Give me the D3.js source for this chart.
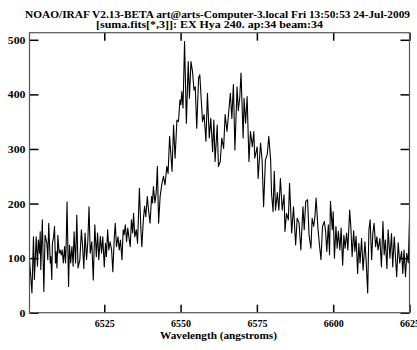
<!DOCTYPE html>
<html>
<head>
<meta charset="utf-8">
<script src="https://cdn.jsdelivr.net/npm/d3@7"></script>
<style>
  body { margin: 0; background: #fff; }
  text { font-family: "Liberation Serif", serif; font-weight: bold; fill: #000; }
</style>
</head>
<body>
<script>
// spectrum: wavelength (angstroms) and flux
const waves = [
  6500.5, 6501.3, 6501.8, 6502.1, 6502.7, 6503.1, 6503.4, 6503.8, 6504.0, 6504.2,
  6504.7, 6505.2, 6505.6, 6506.2, 6506.5, 6506.8, 6507.3, 6507.5, 6507.8, 6508.0,
  6508.4, 6508.7, 6509.0, 6509.2, 6509.5, 6509.8, 6510.2, 6510.5, 6510.9, 6511.2,
  6511.6, 6512.0, 6512.3, 6512.5, 6512.8, 6513.3, 6513.6, 6514.0, 6514.4, 6514.8,
  6515.1, 6515.6, 6516.0, 6516.4, 6517.0, 6517.5, 6517.9, 6518.3, 6518.7, 6519.2,
  6519.6, 6520.0, 6520.4, 6520.9, 6521.4, 6521.9, 6522.4, 6522.8, 6523.2, 6523.7,
  6524.1, 6524.5, 6525.0, 6525.4, 6525.7, 6526.1, 6526.5, 6526.9, 6527.4, 6527.8,
  6528.3, 6528.6, 6529.0, 6529.5, 6529.9, 6530.3, 6530.8, 6531.2, 6531.5, 6531.9,
  6532.3, 6532.7, 6533.2, 6533.5, 6533.9, 6534.3, 6534.6, 6535.0, 6535.5, 6535.9,
  6536.5, 6537.0, 6537.3, 6537.8, 6538.2, 6538.6, 6539.1, 6539.5, 6540.0, 6540.5,
  6540.8, 6541.1, 6541.6, 6542.0, 6542.4, 6542.8, 6543.3, 6543.9, 6544.4, 6544.9,
  6545.5, 6545.9, 6546.4, 6547.2, 6547.7, 6548.2, 6548.8, 6549.3, 6549.8, 6550.1,
  6550.4, 6550.8, 6551.3, 6551.9, 6552.5, 6552.9, 6553.4, 6553.9, 6554.4, 6554.8,
  6555.3, 6555.9, 6556.3, 6556.8, 6557.2, 6557.7, 6558.3, 6558.8, 6559.4, 6559.9,
  6560.5, 6560.9, 6561.3, 6562.0, 6562.4, 6563.0, 6563.5, 6564.1, 6564.6, 6565.2,
  6565.7, 6566.3, 6566.8, 6567.3, 6567.8, 6568.5, 6568.9, 6569.4, 6569.8, 6570.5,
  6570.8, 6571.3, 6571.8, 6572.4, 6572.9, 6573.5, 6574.0, 6574.3, 6575.1, 6575.4,
  6576.2, 6576.7, 6577.2, 6577.8, 6578.4, 6578.9, 6579.5, 6579.8, 6580.3, 6580.7,
  6581.1, 6581.7, 6582.2, 6582.7, 6583.3, 6583.9, 6584.2, 6584.7, 6585.3, 6585.7,
  6586.4, 6587.0, 6587.7, 6588.2, 6588.8, 6589.4, 6590.1, 6590.5, 6591.0, 6591.6,
  6592.1, 6592.7, 6593.1, 6593.6, 6594.0, 6594.4, 6595.0, 6595.5, 6596.0, 6596.5,
  6597.1, 6597.5, 6597.9, 6598.4, 6598.8, 6599.1, 6599.7, 6600.0, 6600.4, 6600.9,
  6601.3, 6601.7, 6602.2, 6602.6, 6603.1, 6603.5, 6603.9, 6604.4, 6604.8, 6605.4,
  6605.8, 6606.2, 6606.7, 6607.1, 6607.5, 6608.0, 6608.4, 6608.8, 6609.3, 6609.8,
  6610.4, 6610.8, 6611.3, 6611.7, 6612.1, 6612.6, 6613.0, 6613.4, 6613.9, 6614.3,
  6614.7, 6615.3, 6615.8, 6616.3, 6616.7, 6617.1, 6617.6, 6618.0, 6618.6, 6619.1,
  6619.5, 6620.0, 6620.4, 6620.8, 6621.3, 6621.8, 6622.4, 6622.8, 6623.2, 6623.7,
  6624.1, 6624.6, 6625.0
];
const flux = [
  97, 36, 139, 61, 139, 85, 133, 109, 148, 79,
  170, 39, 142, 127, 97, 164, 91, 103, 61, 127,
  139, 158, 91, 112, 82, 142, 109, 115, 106, 115,
  91, 121, 91, 121, 203, 48, 124, 91, 121, 85,
  148, 91, 179, 82, 97, 152, 121, 81, 146, 97,
  130, 194, 109, 130, 60, 161, 103, 146, 97, 140,
  109, 139, 84, 127, 103, 152, 115, 130, 115, 75,
  139, 164, 121, 139, 115, 133, 97, 152, 143, 161,
  130, 155, 133, 121, 170, 146, 182, 139, 152, 127,
  228, 152, 121, 170, 195, 176, 213, 188, 164, 213,
  201, 231, 201, 219, 268, 164, 213, 237, 250, 234,
  268, 255, 323, 259, 344, 283, 353, 350, 390, 381,
  405, 375, 497, 347, 460, 393, 460, 442, 408, 414,
  338, 430, 436, 387, 350, 363, 314, 402, 320, 356,
  295, 353, 277, 344, 268, 277, 320, 301, 363, 332,
  363, 402, 356, 418, 298, 414, 370, 395, 439, 320,
  393, 347, 396, 277, 332, 304, 332, 283, 304, 246,
  311, 280, 194, 280, 290, 323, 280, 219, 185, 259,
  188, 220, 188, 246, 188, 216, 149, 182, 170, 237,
  146, 194, 124, 173, 165, 115, 194, 152, 204, 207,
  142, 118, 173, 158, 175, 210, 155, 124, 97, 158,
  167, 150, 112, 161, 106, 204, 152, 185, 100, 158,
  118, 149, 115, 155, 87, 142, 118, 146, 115, 188,
  155, 103, 150, 112, 140, 72, 127, 91, 136, 78,
  130, 94, 36, 152, 170, 97, 146, 164, 121, 139,
  115, 136, 84, 167, 106, 133, 81, 152, 100, 145,
  84, 139, 103, 66, 128, 91, 112, 72, 115, 66,
  109, 91, 170
];
const xTicks = [6525, 6550, 6575, 6600, 6625];
const yTicks = [0, 100, 200, 300, 400, 500];
const titleLines = [
  "NOAO/IRAF V2.13-BETA art@arts-Computer-3.local Fri 13:50:53 24-Jul-2009",
  "[suma.fits[*,3]]: EX Hya 240. ap:34 beam:34"
];
const xLabel = "Wavelength (angstroms)";

let width = 417;
let height = 350;
// plot box in pixels
let box = { left: 29.5, right: 409.5, top: 32.7, bottom: 312.7 };

let svg = d3.select('body').append('svg')
  .attr('width', width)
  .attr('height', height);

let x = d3.scaleLinear().domain([6500.5, 6625]).range([box.left, box.right]);
let y = d3.scaleLinear().domain([0, 513]).range([box.bottom, box.top]);

svg.append('clipPath').attr('id', 'clip')
  .append('rect')
  .attr('x', box.left).attr('y', box.top)
  .attr('width', box.right - box.left).attr('height', box.bottom - box.top);

// spectrum
let data = waves.map((w, i) => [w, flux[i]]);
svg.append('path')
  .datum(data)
  .attr('clip-path', 'url(#clip)')
  .attr('fill', 'none')
  .attr('stroke', '#000')
  .attr('stroke-width', 1.1)
  .attr('stroke-linejoin', 'round')
  .attr('d', d3.line().x(d => x(d[0])).y(d => y(d[1])));

// axes, ticks pointing inward
let bottomAxis = svg.append('g')
  .attr('transform', `translate(0,${box.bottom})`)
  .call(d3.axisBottom(x).tickValues(xTicks).tickSize(-8).tickPadding(7).tickFormat(d3.format('d')));
svg.append('g')
  .attr('transform', `translate(0,${box.top})`)
  .call(d3.axisTop(x).tickValues(xTicks).tickSize(-8).tickFormat(''));
let leftAxis = svg.append('g')
  .attr('transform', `translate(${box.left},0)`)
  .call(d3.axisLeft(y).tickValues(yTicks).tickSize(-9).tickPadding(4).tickFormat(d3.format('d')));
svg.append('g')
  .attr('transform', `translate(${box.right},0)`)
  .call(d3.axisRight(y).tickValues(yTicks).tickSize(-9).tickFormat(''));

svg.selectAll('.domain').remove();
svg.selectAll('.tick line').attr('stroke', '#000').attr('stroke-width', 1.5);

bottomAxis.selectAll('text')
  .attr('font-size', 10.5)
  .attr('textLength', 20).attr('lengthAdjust', 'spacingAndGlyphs');
leftAxis.selectAll('text')
  .attr('font-size', 11)
  .each(function(d) {
    d3.select(this).attr('textLength', String(d).length * 5.9).attr('lengthAdjust', 'spacingAndGlyphs');
  });

// frame
svg.append('rect')
  .attr('x', box.left).attr('y', box.top)
  .attr('width', box.right - box.left).attr('height', box.bottom - box.top)
  .attr('fill', 'none')
  .attr('stroke', '#555')
  .attr('stroke-width', 1.2);

// titles
svg.append('text')
  .attr('x', 25).attr('y', 18)
  .attr('font-size', 10)
  .attr('textLength', 385).attr('lengthAdjust', 'spacingAndGlyphs')
  .text(titleLines[0]);
svg.append('text')
  .attr('x', 96).attr('y', 27.5)
  .attr('font-size', 10)
  .attr('textLength', 227).attr('lengthAdjust', 'spacingAndGlyphs')
  .text(titleLines[1]);

svg.append('text')
  .attr('x', 160).attr('y', 338.5)
  .attr('font-size', 10.5)
  .attr('textLength', 117).attr('lengthAdjust', 'spacingAndGlyphs')
  .text(xLabel);
</script>
</body>
</html>
